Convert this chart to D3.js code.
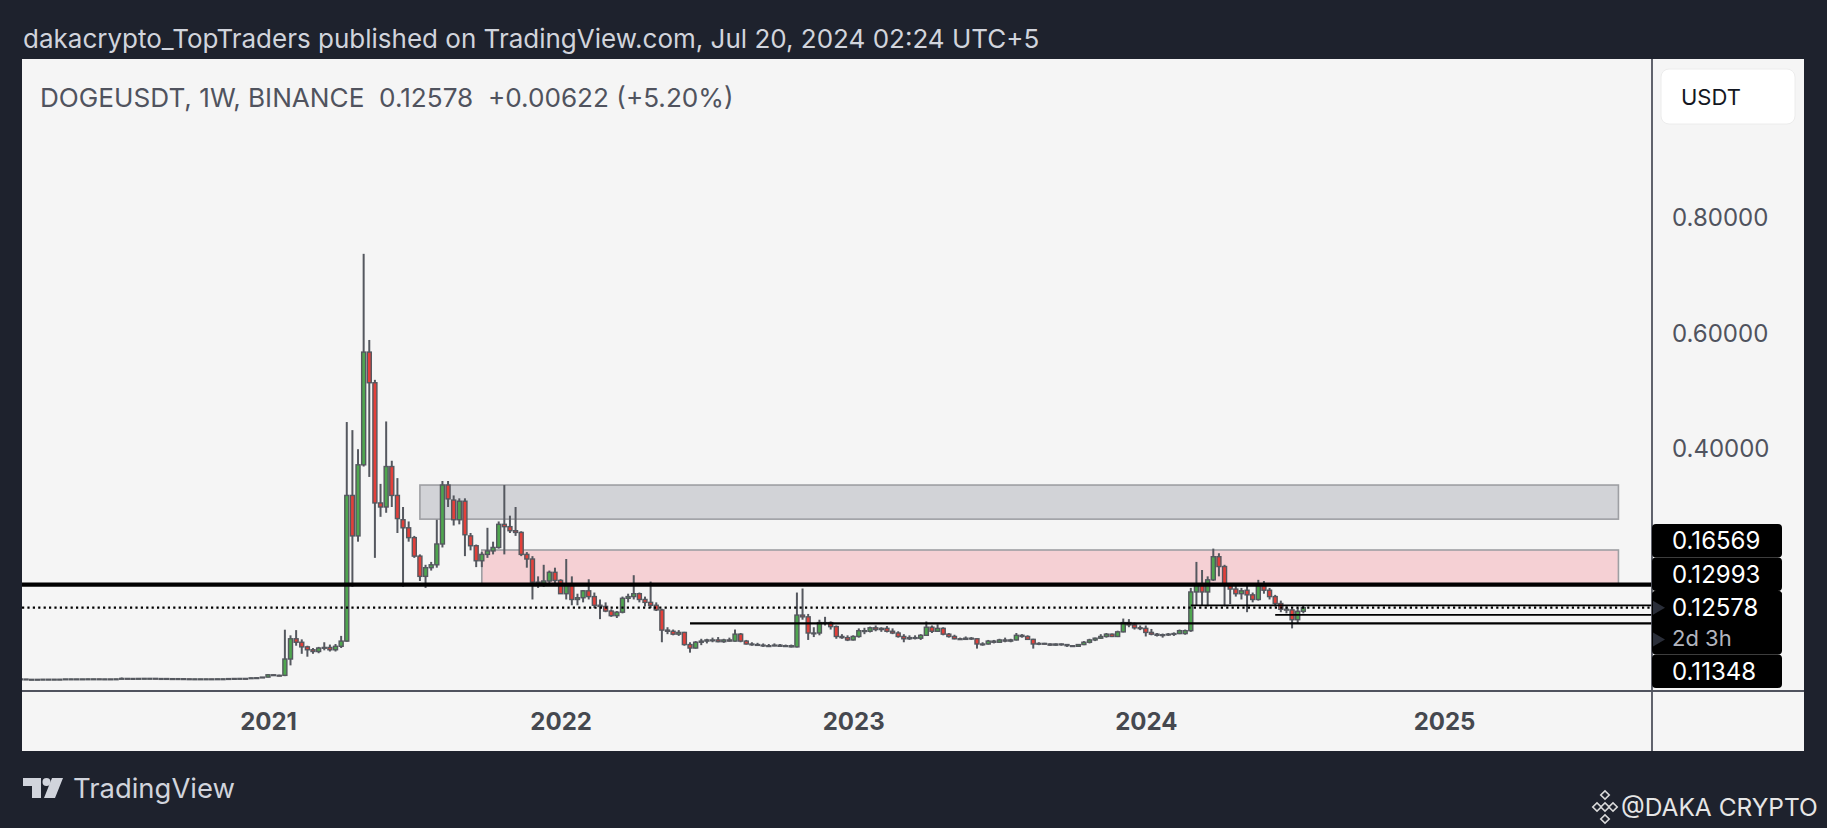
<!DOCTYPE html>
<html>
<head>
<meta charset="utf-8">
<script src="https://cdn.jsdelivr.net/npm/d3@7"></script>
<style>
  html, body { margin: 0; padding: 0; background: #1e222d; overflow: hidden; }
  text { font-family: Inter, "Noto Sans", Roboto, sans-serif; }
</style>
</head>
<body>
<svg id="chart" width="1827" height="828"></svg>
<script>
// weekly DOGEUSDT candles, [open, high, low, close]
var firstWeek = "2020-03-02";
var c2020 = [
  [.0025,.0026,.0022,.0023],[.0023,.0024,.0013,.0017],[.0017,.0020,.0016,.0018],[.0018,.0019,.0017,.0018],
  [.0018,.0020,.0018,.0020],[.0020,.0021,.0019,.0020],[.0020,.0021,.0019,.0020],[.0020,.0021,.0019,.0020],
  [.0020,.0025,.0020,.0025],[.0025,.0027,.0023,.0025],[.0025,.0026,.0023,.0025],[.0025,.0026,.0024,.0025],
  [.0025,.0027,.0024,.0026],[.0026,.0027,.0025,.0026],[.0026,.0026,.0024,.0025],[.0025,.0026,.0024,.0025],
  [.0025,.0025,.0023,.0024],[.0024,.0026,.0024,.0026],[.0026,.0050,.0026,.0034],[.0034,.0035,.0032,.0033],
  [.0033,.0034,.0031,.0033],[.0033,.0037,.0031,.0034],[.0034,.0037,.0031,.0035],[.0035,.0036,.0033,.0035],
  [.0035,.0037,.0031,.0032],[.0032,.0034,.0031,.0032],[.0032,.0035,.0028,.0030],[.0030,.0031,.0028,.0030],
  [.0030,.0031,.0028,.0029],[.0029,.0029,.0025,.0027],[.0027,.0028,.0026,.0026],[.0026,.0027,.0025,.0026],
  [.0026,.0027,.0025,.0026],[.0026,.0027,.0025,.0026],[.0026,.0026,.0024,.0025],[.0025,.0028,.0025,.0027],
  [.0027,.0028,.0026,.0027],[.0027,.0032,.0027,.0031],[.0031,.0037,.0029,.0033],[.0033,.0035,.0032,.0034],
  [.0034,.0035,.0032,.0033],[.0033,.0046,.0033,.0044],[.0044,.0050,.0041,.0046],[.0046,.0058,.0045,.0057]
];
var c2021 = [
  [.0057,.0107,.0056,.0097],[.0097,.0101,.0078,.0088],[.0088,.0099,.0072,.0087],[.0087,.0877,.0074,.0370],
  [.0370,.0780,.0260,.0720],[.0720,.0870,.0600,.0660],[.0660,.0710,.0460,.0580],[.0580,.0600,.0410,.0530],
  [.0530,.0560,.0460,.0500],[.0500,.0580,.0470,.0560],[.0560,.0660,.0520,.0570],[.0570,.0620,.0500,.0530],
  [.0530,.0630,.0500,.0590],[.0590,.0770,.0560,.0680],[.0680,.4470,.0670,.3200],[.3200,.4330,.1620,.2500],
  [.2500,.4000,.2400,.3730],[.3730,.7380,.3700,.5680],[.5680,.5890,.3520,.5150],[.5150,.5200,.2120,.3070],
  [.3070,.3400,.2830,.3000],[.3000,.4480,.2900,.3700],[.3700,.3800,.3000,.3200],[.3200,.3500,.2550,.2800],
  [.2780,.3000,.1620,.2640],[.2640,.2750,.2400,.2470],[.2470,.2500,.2120,.2150],[.2150,.2180,.1720,.1800],
  [.1800,.2000,.1600,.1950],[.1950,.2050,.1900,.2000],[.2000,.2780,.1950,.2360],[.2360,.3450,.2300,.3380],
  [.3380,.3450,.3000,.3140],[.3120,.3200,.2680,.2780],[.2780,.3150,.2700,.3100],[.3100,.3150,.2150,.2520],
  [.2500,.2550,.2250,.2330],[.2330,.2350,.1960,.2070],[.2070,.2220,.1960,.2180],[.2180,.2640,.2120,.2240],
  [.2240,.2400,.2180,.2300],[.2300,.2750,.2280,.2700],[.2700,.3380,.2180,.2660],[.2660,.2850,.2550,.2590],
  [.2590,.3000,.2500,.2560],[.2560,.2580,.2150,.2180],[.2180,.2220,.1950,.2100],[.2100,.2150,.1400,.1700],
  [.1700,.1800,.1600,.1680],[.1680,.2000,.1620,.1720],[.1720,.1900,.1680,.1870],[.1870,.1950,.1650,.1730]
];
var c2022 = [
  [.1730,.1750,.1500,.1500],[.1500,.2100,.1400,.1650],[.1650,.1800,.1300,.1400],[.1400,.1500,.1300,.1430],
  [.1430,.1560,.1350,.1550],[.1550,.1750,.1400,.1450],[.1450,.1520,.1250,.1300],[.1300,.1400,.1060,.1280],
  [.1280,.1350,.1180,.1200],[.1200,.1230,.1100,.1120],[.1120,.1200,.1080,.1180],[.1180,.1450,.1160,.1420],
  [.1420,.1500,.1350,.1450],[.1450,.1820,.1400,.1500],[.1500,.1520,.1350,.1400],[.1400,.1450,.1280,.1350],
  [.1350,.1710,.1250,.1300],[.1300,.1350,.1200,.1220],[.1220,.1240,.0660,.0870],[.0870,.0920,.0800,.0850],
  [.0850,.0880,.0780,.0800],[.0800,.0870,.0770,.0830],[.0830,.0840,.0600,.0620],[.0620,.0660,.0480,.0560],
  [.0560,.0680,.0550,.0660],[.0660,.0720,.0610,.0680],[.0680,.0720,.0640,.0700],[.0700,.0740,.0660,.0700],
  [.0700,.0750,.0660,.0670],[.0670,.0720,.0650,.0700],[.0700,.0740,.0670,.0680],[.0680,.0880,.0670,.0800],
  [.0800,.0820,.0660,.0680],[.0680,.0700,.0620,.0630],[.0630,.0660,.0600,.0620],[.0620,.0650,.0600,.0610],
  [.0610,.0640,.0580,.0600],[.0600,.0630,.0580,.0600],[.0600,.0640,.0590,.0610],[.0610,.0630,.0580,.0590],
  [.0590,.0620,.0580,.0600],[.0600,.0620,.0570,.0580],[.0580,.1520,.0570,.1130],[.1130,.1590,.1050,.1100],
  [.1100,.1150,.0700,.0820],[.0820,.0920,.0750,.0820],[.0820,.1050,.0780,.1000],[.1000,.1100,.0950,.1000],
  [.1000,.1020,.0880,.0930],[.0930,.0950,.0720,.0760],[.0760,.0800,.0720,.0740],[.0740,.0780,.0680,.0700]
];
var c2023 = [
  [.0700,.0780,.0690,.0760],[.0760,.0900,.0740,.0860],[.0860,.0910,.0800,.0850],[.0850,.0930,.0830,.0910],
  [.0910,.0950,.0850,.0880],[.0880,.0920,.0840,.0900],[.0900,.0940,.0830,.0850],[.0850,.0900,.0800,.0820],
  [.0820,.0850,.0740,.0760],[.0760,.0800,.0660,.0720],[.0720,.0780,.0700,.0740],[.0740,.0780,.0710,.0730],
  [.0730,.0800,.0700,.0780],[.0780,.1020,.0770,.0920],[.0920,.0950,.0820,.0850],[.0850,.0970,.0840,.0900],
  [.0900,.0920,.0780,.0800],[.0800,.0820,.0740,.0760],[.0760,.0790,.0710,.0720],[.0720,.0740,.0700,.0710],
  [.0710,.0760,.0700,.0730],[.0730,.0750,.0700,.0720],[.0720,.0730,.0550,.0630],[.0630,.0660,.0600,.0630],
  [.0630,.0700,.0620,.0680],[.0680,.0700,.0640,.0660],[.0660,.0720,.0650,.0700],[.0700,.0740,.0660,.0680],
  [.0680,.0720,.0660,.0700],[.0700,.0820,.0690,.0780],[.0780,.0800,.0740,.0760],[.0760,.0780,.0700,.0710],
  [.0710,.0720,.0550,.0630],[.0630,.0660,.0610,.0640],[.0640,.0650,.0620,.0630],[.0630,.0640,.0600,.0610],
  [.0610,.0640,.0600,.0630],[.0630,.0640,.0600,.0620],[.0620,.0630,.0580,.0600],[.0600,.0610,.0580,.0590],
  [.0590,.0630,.0580,.0620],[.0620,.0680,.0610,.0660],[.0660,.0720,.0640,.0700],[.0700,.0740,.0680,.0730],
  [.0730,.0800,.0720,.0760],[.0760,.0820,.0740,.0800],[.0800,.0810,.0750,.0760],[.0760,.0860,.0750,.0840],
  [.0840,.1070,.0830,.1000],[.1000,.1060,.0920,.0960],[.0960,.1000,.0880,.0910],[.0910,.0950,.0870,.0900]
];
var c2024 = [
  [.0900,.0950,.0760,.0830],[.0830,.0890,.0780,.0800],[.0800,.0820,.0760,.0780],[.0780,.0810,.0740,.0790],
  [.0790,.0820,.0770,.0800],[.0800,.0830,.0770,.0810],[.0810,.0880,.0800,.0860],[.0810,.0880,.0790,.0860],
  [.0860,.1600,.0840,.1530],[.1530,.2050,.1300,.1670],[.1670,.1910,.1300,.1530],[.1530,.1800,.1280,.1740],
  [.1740,.2280,.1720,.2140],[.2140,.2200,.1800,.1970],[.1970,.2000,.1280,.1650],[.1650,.1680,.1320,.1580],
  [.1580,.1640,.1450,.1500],[.1500,.1600,.1400,.1550],[.1560,.1680,.1180,.1480],[.1480,.1520,.1350,.1400],
  [.1400,.1740,.1380,.1640],[.1640,.1720,.1500,.1560],[.1560,.1600,.1400,.1450],[.1450,.1480,.1280,.1330],
  [.1330,.1380,.1180,.1230],[.1230,.1280,.1160,.1220],[.1220,.1240,.0900,.1050],[.1050,.1250,.0980,.11956],
  [.11956,.1290,.1160,.12578]
];

var yearTicks = ["2021-01-04", "2022-01-03", "2023-01-02", "2024-01-01", "2025-01-06"];
var priceTicks = [0.4, 0.6, 0.8];

// horizontal levels drawn on the chart (start date null = from the left edge)
var levelPrices = [0.16569, 0.12993, 0.12578, 0.11348, 0.0988];
var levelStarts = [null, "2024-02-26", null, "2024-06-10", "2022-06-13"];
var countdown = "2d 3h";

// zones: [start, end, top price, bottom price]
var grayZone = ["2021-07-12", "2025-08-11", 0.338, 0.279];
var pinkZone = ["2021-09-27", "2025-08-11", 0.2256, 0.16569];

var titleText = "dakacrypto_TopTraders published on TradingView.com, Jul 20, 2024 02:24 UTC+5";
var legendText = "DOGEUSDT, 1W, BINANCE\u00a0\u00a00.12578\u00a0\u00a0+0.00622 (+5.20%)";

var parse = d3.utcParse("%Y-%m-%d");
var start = parse(firstWeek);
var candles = [].concat(c2020, c2021, c2022, c2023, c2024).map(function (d, i) {
  return { date: d3.utcMonday.offset(start, i), o: d[0], h: d[1], l: d[2], c: d[3] };
});

var svg = d3.select("#chart");
var plot = { left: 22, top: 59, right: 1652, bottom: 691 };
var panel = { left: 22, top: 59, right: 1804, bottom: 751 };

var x = d3.scaleUtc()
  .domain([parse(yearTicks[0]), parse(yearTicks[4])])
  .range([268, 1444]);
var y = d3.scaleLinear().domain([0, 0.8]).range([680.4, 218]);

var green = "#4fa64f";
var red = "#e3403a";
var wickColor = "#55585f";
var bodyW = 4;

svg.append("rect").attr("width", 1827).attr("height", 828).attr("fill", "#1e222d");
svg.append("rect")
  .attr("x", panel.left).attr("y", panel.top)
  .attr("width", panel.right - panel.left).attr("height", panel.bottom - panel.top)
  .attr("fill", "#f5f5f5");

svg.append("defs").append("clipPath").attr("id", "clip")
  .append("rect")
  .attr("x", plot.left).attr("y", plot.top)
  .attr("width", plot.right - plot.left).attr("height", plot.bottom - plot.top);

var g = svg.append("g").attr("clip-path", "url(#clip)");

// zones
[[grayZone, "#d2d3d7"], [pinkZone, "#f5d0d4"]].forEach(function (z) {
  var d = z[0];
  g.append("rect")
    .attr("x", x(parse(d[0])))
    .attr("y", y(d[2]))
    .attr("width", x(parse(d[1])) - x(parse(d[0])))
    .attr("height", y(d[3]) - y(d[2]))
    .attr("fill", z[1])
    .attr("stroke", "#9e9fa3")
    .attr("stroke-width", 1.6);
});

// candles
var cg = g.selectAll(".candle").data(candles).enter().append("g").attr("class", "candle");
cg.append("line")
  .attr("x1", (d) => x(d.date)).attr("x2", (d) => x(d.date))
  .attr("y1", (d) => y(d.h)).attr("y2", (d) => y(d.l))
  .attr("stroke", wickColor).attr("stroke-width", 2);
cg.append("rect")
  .attr("x", (d) => x(d.date) - bodyW / 2)
  .attr("y", (d) => y(Math.max(d.o, d.c)))
  .attr("width", bodyW)
  .attr("height", (d) => Math.max(0.8, Math.abs(y(d.o) - y(d.c))))
  .attr("fill", (d) => (d.c >= d.o ? green : red))
  .attr("stroke", wickColor)
  .attr("stroke-width", 1.4);

// horizontal levels
var levelStyle = [
  { w: 4.2, dash: null },
  { w: 1.7, dash: null },
  { w: 2.3, dash: "2.2,3.2" },
  { w: 1.8, dash: null },
  { w: 2.2, dash: null }
];
levelPrices.forEach(function (p, i) {
  var x0 = levelStarts[i] ? x(parse(levelStarts[i])) : plot.left;
  g.append("line")
    .attr("x1", x0).attr("x2", plot.right)
    .attr("y1", y(p)).attr("y2", y(p))
    .attr("stroke", "#000")
    .attr("stroke-width", levelStyle[i].w)
    .attr("stroke-dasharray", levelStyle[i].dash);
});

// separators
svg.append("line")
  .attr("x1", plot.right).attr("x2", plot.right)
  .attr("y1", panel.top).attr("y2", panel.bottom)
  .attr("stroke", "#50535e").attr("stroke-width", 1.8);
svg.append("line")
  .attr("x1", panel.left).attr("x2", panel.right)
  .attr("y1", plot.bottom).attr("y2", plot.bottom)
  .attr("stroke", "#50535e").attr("stroke-width", 2);

// price axis
var yAxis = svg.append("g")
  .attr("transform", `translate(${plot.right},0)`)
  .call(d3.axisRight(y).tickValues(priceTicks).tickFormat(d3.format(".5f")).tickSize(0).tickPadding(20));
yAxis.select(".domain").remove();
yAxis.selectAll("text")
  .attr("font-size", 24).attr("fill", "#50535e")
  .style("font-family", "Inter, sans-serif");

// time axis
var xAxis = svg.append("g")
  .attr("transform", `translate(0,${plot.bottom})`)
  .call(d3.axisBottom(x).tickValues(yearTicks.map(parse)).tickFormat(d3.utcFormat("%Y")).tickSize(0).tickPadding(0));
xAxis.select(".domain").remove();
xAxis.selectAll("text")
  .attr("y", 31).attr("dy", "0.35em")
  .attr("font-size", 24).attr("font-weight", 700).attr("fill", "#45484f")
  .style("font-family", "Inter, sans-serif");

// currency box
svg.append("rect")
  .attr("x", 1661).attr("y", 69).attr("width", 134).attr("height", 55).attr("rx", 8)
  .attr("fill", "#fff").attr("stroke", "#ececec");
svg.append("text")
  .attr("x", 1681).attr("y", 97).attr("dy", "0.35em")
  .attr("font-size", 22).attr("fill", "#131722").text("USDT");

// stacked price labels on the axis
var lh = 33.5, ch = 30;
var curIdx = 2;
var curTop = y(levelPrices[curIdx]) - lh / 2;
var centres = {};
centres[curIdx] = curTop + lh / 2;
var limit = curTop;
[1, 0].forEach(function (i) {
  var c = Math.min(y(levelPrices[i]), limit - lh / 2);
  centres[i] = c;
  limit = c - lh / 2;
});
limit = curTop + lh + ch;
[3].forEach(function (i) {
  var c = Math.max(y(levelPrices[i]), limit + lh / 2);
  centres[i] = c;
  limit = c + lh / 2;
});

var lg = svg.append("g");
lg.append("rect")
  .attr("x", plot.right).attr("y", curTop).attr("width", 130).attr("height", lh + ch).attr("rx", 4)
  .attr("fill", "#000");
Object.keys(centres).forEach(function (k) {
  var c = centres[k];
  lg.append("rect")
    .attr("x", plot.right).attr("y", c - lh / 2).attr("width", 130).attr("height", lh).attr("rx", 4)
    .attr("fill", "#000");
});
// arrow tabs on the current-price label
[centres[curIdx], curTop + lh + ch / 2].forEach(function (c) {
  lg.append("path")
    .attr("d", d3.line()([[plot.right + 1, c - 7], [plot.right + 13, c], [plot.right + 1, c + 7]]))
    .attr("fill", "#2a2e39");
});
Object.keys(centres).forEach(function (k) {
  lg.append("text")
    .attr("x", 1672).attr("y", centres[k]).attr("dy", "0.35em")
    .attr("font-size", 24).attr("fill", "#fff")
    .text(d3.format(".5f")(levelPrices[k]));
});
lg.append("text")
  .attr("x", 1672).attr("y", curTop + lh + ch / 2 - 1).attr("dy", "0.35em")
  .attr("font-size", 22).attr("fill", "#b2b5be")
  .text(countdown);

// header texts
function fitWidth(sel, w) {
  var cur = sel.node().getComputedTextLength();
  var fs = parseFloat(sel.attr("font-size"));
  sel.attr("font-size", (fs * w) / cur);
}
var title = svg.append("text")
  .attr("x", 23).attr("y", 39).attr("dy", "0.35em")
  .attr("font-size", 24).attr("fill", "#d1d4dc").text(titleText);
fitWidth(title, 1017);
var legend = svg.append("text")
  .attr("x", 40).attr("y", 98).attr("dy", "0.35em")
  .attr("font-size", 23).attr("fill", "#50535e").text(legendText);
fitWidth(legend, 694);

// footer
var logo = svg.append("g").attr("fill", "#d1d4dc");
logo.append("path").attr("d", "M23,778H41V798H32V786H23Z");
logo.append("circle").attr("cx", 46.5).attr("cy", 782).attr("r", 4);
logo.append("path").attr("d", "M52,778H63L55,798H44Z");
var tv = svg.append("text")
  .attr("x", 73).attr("y", 788).attr("dy", "0.35em")
  .attr("font-size", 27).attr("fill", "#d1d4dc").text("TradingView");
fitWidth(tv, 162);

var mark = svg.append("g").attr("fill", "none").attr("stroke", "#d9d9d9").attr("stroke-width", 1.6);
[[1605, 795], [1597, 807], [1613, 807], [1605, 819], [1605, 807]].forEach(function (p) {
  mark.append("rect")
    .attr("x", -3).attr("y", -3).attr("width", 6).attr("height", 6)
    .attr("transform", `translate(${p[0]},${p[1]}) rotate(45)`);
});
var daka = svg.append("text")
  .attr("x", 1621).attr("y", 807).attr("dy", "0.35em")
  .attr("font-size", 24).attr("fill", "#e6e6e6").text("@DAKA CRYPTO");
fitWidth(daka, 197);
</script>
</body>
</html>
